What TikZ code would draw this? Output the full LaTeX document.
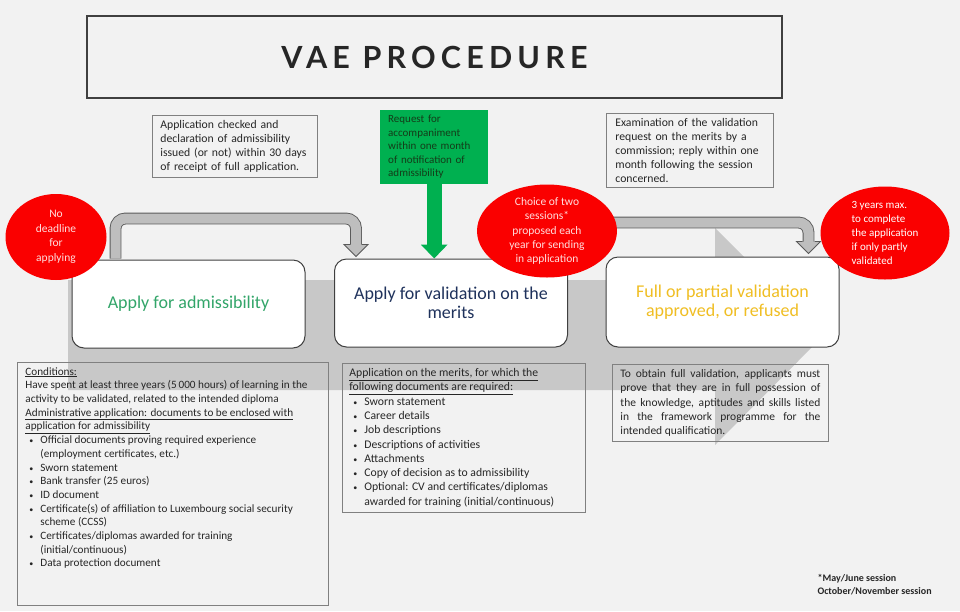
\documentclass[tikz,border=0pt]{standalone}
\usepackage{fontspec}
\setmainfont{Carlito}
\newfontfamily\vaetitlefont[LetterSpace=17]{Lato}
\usetikzlibrary{arrows.meta,positioning,calc,shapes.geometric}
\definecolor{VaeBack}{RGB}{242,242,242}
\definecolor{VaeBand}{RGB}{200,200,200}
\definecolor{VaeDark}{RGB}{64,64,64}
\definecolor{VaeFrame}{RGB}{128,128,128}
\definecolor{VaeText}{RGB}{38,38,38}
\definecolor{VaeRed}{RGB}{250,0,0}
\definecolor{VaePink}{RGB}{255,222,222}
\definecolor{VaeGreen}{RGB}{0,176,80}
\definecolor{VaeGreenText}{RGB}{50,165,105}
\definecolor{VaeDeepGreen}{RGB}{20,60,25}
\definecolor{VaeNavy}{RGB}{31,50,92}
\definecolor{VaeGold}{RGB}{240,190,35}
\definecolor{VaeArrowFill}{RGB}{190,190,190}
\definecolor{VaeArrowLine}{RGB}{90,90,90}
\newcommand{\docitem}[1]{\par\noindent\hangindent=15pt\hangafter=1\makebox[15pt][l]{\hspace{4pt}{\fontsize{8}{8}\selectfont\textbullet}}#1}
\tikzset{
  vae/titlebox/.style={
    draw=VaeDark,
    line width=2pt,
    minimum width=695pt,
    minimum height=82pt,
    inner sep=0pt,
    text=VaeText,
    font=\vaetitlefont\bfseries\fontsize{30.5}{36}\selectfont
  },
  vae/note/.style={
    draw=VaeFrame,
    line width=0.8pt,
    align=left,
    text=VaeText,
    inner xsep=8pt,
    inner ysep=5pt,
    font=\fontsize{11.7}{14}\selectfont
  },
  vae/request/.style={
    fill=VaeGreen,
    draw=none,
    align=left,
    text=VaeDeepGreen,
    inner xsep=8pt,
    inner ysep=5pt,
    font=\fontsize{11}{13.5}\selectfont
  },
  vae/stage/.style={
    draw=VaeDark,
    line width=1pt,
    rounded corners=12pt,
    fill=white,
    align=center,
    minimum width=233pt,
    minimum height=88pt,
    font=\fontsize{18}{19.5}\selectfont
  },
  vae/badge/.style={ellipse, fill=VaeRed, draw=none, inner sep=0pt},
  vae/badgetext/.style={text=VaePink, align=center, font=\fontsize{11.5}{14.5}\selectfont},
  vae/bend/.style={draw=VaeArrowLine, double=VaeArrowFill, double distance=10pt, line width=0.9pt, rounded corners=10pt},
  vae/bendhead/.style={fill=VaeArrowFill, draw=VaeArrowLine, line width=0.9pt},
  vae/greenarrow/.style={draw=VaeGreen, line width=15pt, -{Triangle[length=14pt,width=26pt]}},
  vae/footnote/.style={align=left, text=VaeText, font=\bfseries\fontsize{10}{12.5}\selectfont}
}
\begin{document}
\begin{tikzpicture}[x=1pt,y=-1pt]
  \useasboundingbox (0,0) rectangle (960,611);
  \fill[VaeBack] (0,0) rectangle (960,611);
  % wide grey arrow behind the stages
  \fill[VaeBand] (68,280) -- (715,280) -- (715,228) -- (823,336) -- (715,445) -- (715,390) -- (68,390) -- cycle;
  \node[vae/titlebox] (title) at (434.5,57) {VAE PROCEDURE};
  \node[vae/note,anchor=north west,text width=149pt] (check) at (152,115) {Application checked and\\declaration of admissibility\\issued (or not) within 30 days\\of receipt of full application.};
  \node[vae/request,anchor=north west,text width=92pt] (req) at (380,110) {Request for\\accompaniment\\within one month\\of notification of\\admissibility};
  \node[vae/note,anchor=north west,text width=149pt,inner xsep=9pt] (exam) at (606,113) {Examination of the validation\\request on the merits by a\\commission; reply within one\\month following the session\\concerned.};
  % stages
  \node[vae/stage,text=VaeGreenText] (adm) at (188.5,304) {Apply for admissibility};
  \node[vae/stage,text=VaeNavy] (merits) at (451,303) {Apply for validation on the\\merits};
  \node[vae/stage,text=VaeGold,minimum height=90pt] (result) at (722.5,302) {Full or partial validation\\approved, or refused};
  % bent grey arrows
  \coordinate (h1) at ($(merits.north west)+(22,-14)$);
  \coordinate (h2) at ($(result.north east)+(-31,-15)$);
  \draw[vae/bend] ($(adm.north west)+(44,-1)$) -- ++(0,-40) -| ($(h1)+(0,2)$);
  \path[vae/bendhead] (h1) ++(-6,0) -- ++(-6,0) -- ++(12,12) -- ++(12,-12) -- ++(-6,0);
  \draw[vae/bend] ($(merits.north east)+(-20,-1)$) -- ++(0,-35) -| ($(h2)+(0,2)$);
  \path[vae/bendhead] (h2) ++(-6,0) -- ++(-6,0) -- ++(12,12) -- ++(12,-12) -- ++(-6,0);
  \draw[vae/greenarrow] (req.south) -- (req.south |- merits.north);
  % red badges
  \node[vae/badge,minimum width=101pt,minimum height=86pt,label={[vae/badgetext]center:{No\\deadline\\for\\applying}}] (nodeadline) at (56,237) {};
  \node[vae/badge,minimum width=140pt,minimum height=93pt,label={[vae/badgetext,font=\fontsize{11.5}{14.3}\selectfont]center:{Choice of two\\sessions*\\proposed each\\year for sending\\in application}}] (sessions) at (547,231) {};
  \node[vae/badge,minimum width=129pt,minimum height=93pt,label={[vae/badgetext,align=left,text=white,font=\fontsize{11}{14}\selectfont]center:{3 years max.\\to complete\\the application\\if only partly\\validated}}] (maxyears) at (885,233) {};
  % documents
  \node[vae/note,anchor=north west,font=\fontsize{11.2}{13.7}\selectfont] (cond) at (17,362) {\parbox[t][233pt][t]{295pt}{\raggedright
    \underline{Conditions:}\\
    Have spent at least three years (5\,000 hours) of learning in the\\
    activity to be validated, related to the intended diploma\\
    \underline{Administrative application: documents to be enclosed with}\\
    \underline{application for admissibility}
    \docitem{Official documents proving required experience\newline(employment certificates, etc.)}
    \docitem{Sworn statement}
    \docitem{Bank transfer (25 euros)}
    \docitem{ID document}
    \docitem{Certificate(s) of affiliation to Luxembourg social security\newline scheme (CCSS)}
    \docitem{Certificates/diplomas awarded for training\newline(initial/continuous)}
    \docitem{Data protection document}}};
  \node[vae/note,anchor=north west,inner xsep=7pt,font=\fontsize{11.7}{14.3}\selectfont] (docs) at (342,363) {\parbox[t]{229pt}{\raggedright
    \underline{Application on the merits, for which the}\\
    \underline{following documents are required:}
    \docitem{Sworn statement}
    \docitem{Career details}
    \docitem{Job descriptions}
    \docitem{Descriptions of activities}
    \docitem{Attachments}
    \docitem{Copy of decision as to admissibility}
    \docitem{Optional: CV and certificates/diplomas\newline awarded for training (initial/continuous)}}};
  \node[vae/note,anchor=north west,text width=200pt,align=justify,font=\fontsize{11.5}{14.4}\selectfont] (full) at (612,364) {To obtain full validation, applicants must\linebreak prove that they are in full possession of\linebreak the knowledge, aptitudes and skills listed\linebreak in the framework programme for the\linebreak intended qualification.};
  \node[vae/footnote,anchor=north west] (sessionnote) at (814,571) {*May/June session\\October/November session};
\end{tikzpicture}
\end{document}
